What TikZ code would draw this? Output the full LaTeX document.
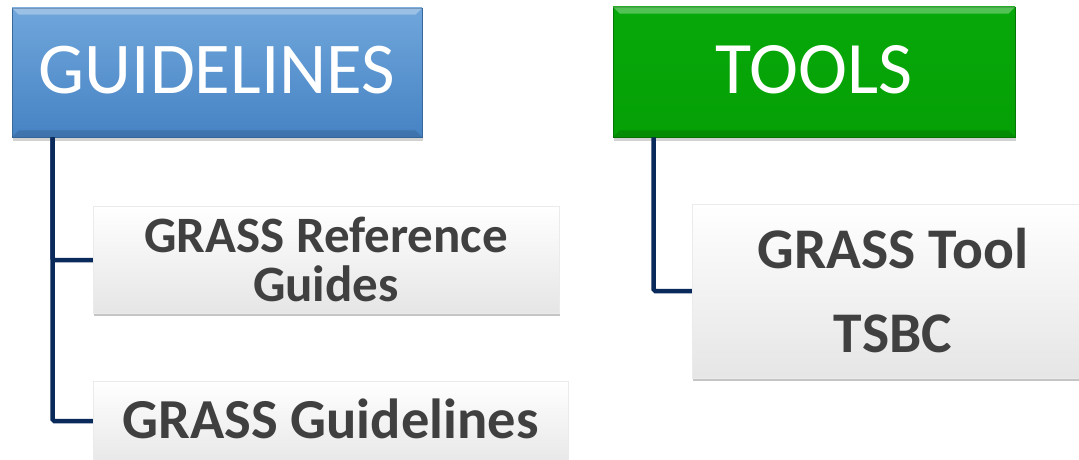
\documentclass[tikz,border=0pt]{standalone}
\usepackage{fontspec}
\setmainfont{Carlito}
\usetikzlibrary{shadows}
\definecolor{conncol}{HTML}{0B2A5C}
\definecolor{txtgray}{HTML}{404040}
\definecolor{bluetop}{HTML}{70A6DB}
\definecolor{bluebot}{HTML}{4683C4}
\definecolor{greentop}{HTML}{07A80A}
\definecolor{greenbot}{HTML}{05A005}
\tikzset{
  header/.style={rectangle, inner sep=0pt, text=white,
    font=\fontsize{73}{80}\selectfont,
    drop shadow={shadow xshift=1pt, shadow yshift=-4pt, opacity=0.35}},
  bluehead/.style={header, top color=bluetop, bottom color=bluebot, draw=bluebot!80!black, line width=0.6pt},
  greenhead/.style={header, top color=greentop, bottom color=greenbot, draw=greenbot!75!black, line width=0.6pt},
  child/.style={rectangle, inner sep=0pt, align=center, text=txtgray,
    top color=white, bottom color=black!10, draw=black!8, line width=0.4pt,
    drop shadow={shadow xshift=1pt, shadow yshift=-3pt, opacity=0.45}},
  conn/.style={draw=conncol, line width=4.5pt, rounded corners=1.5pt}
}
\begin{document}
\begin{tikzpicture}[x=1pt,y=-1pt]
\useasboundingbox (0,0) rectangle (1079,460);
\clip (0,0) rectangle (1079,460);
\fill[white] (0,0) rectangle (1079,460);
\node[bluehead, minimum width=410pt, minimum height=129pt] (g) at (217,72.5) {};
\node[text=white, font=\fontsize{73}{80}\selectfont] (gt) at (217,70) {GUIDELINES};
\node[greenhead, minimum width=402pt, minimum height=130pt] (t) at (814,72) {};
\node[text=white, font=\fontsize{74}{80}\selectfont] (tt) at (814,70) {TOOLS};
\draw[conn] ([xshift=41pt]g.south west) |- (326,260) coordinate (b1);
\draw[conn] ([xshift=41pt]g.south west) |- (330,421) coordinate (b2);
\draw[conn] ([xshift=41pt]t.south west) |- (894,291) coordinate (b3);
\node[child, minimum width=466pt, minimum height=107pt, font=\fontsize{51}{49}\selectfont\bfseries] (c1) at (326,259.5) {GRASS Reference\\Guides};
\node[child, minimum width=475pt, minimum height=90pt] (c2) at (330.5,426) {};
\node[text=txtgray, font=\fontsize{56.5}{48}\selectfont\bfseries] (c2t) at (330.5,419) {GRASS Guidelines};
\node[child, minimum width=402pt, minimum height=174pt, font=\fontsize{57.5}{48}\selectfont\bfseries] (c3) at (893,291) {GRASS Tool\\[36pt]TSBC};
% bevels
\fill[white, opacity=0.3] (g.north west) -- (g.north east) -- ([xshift=-7pt,yshift=-7pt]g.north east) -- ([xshift=7pt,yshift=-7pt]g.north west) -- cycle;
\fill[black, opacity=0.12] (g.south west) -- (g.south east) -- ([xshift=-7pt,yshift=7pt]g.south east) -- ([xshift=7pt,yshift=7pt]g.south west) -- cycle;
\fill[white, opacity=0.3] (t.north west) -- (t.north east) -- ([xshift=-7pt,yshift=-7pt]t.north east) -- ([xshift=7pt,yshift=-7pt]t.north west) -- cycle;
\fill[black, opacity=0.12] (t.south west) -- (t.south east) -- ([xshift=-7pt,yshift=7pt]t.south east) -- ([xshift=7pt,yshift=7pt]t.south west) -- cycle;
\end{tikzpicture}
\end{document}
